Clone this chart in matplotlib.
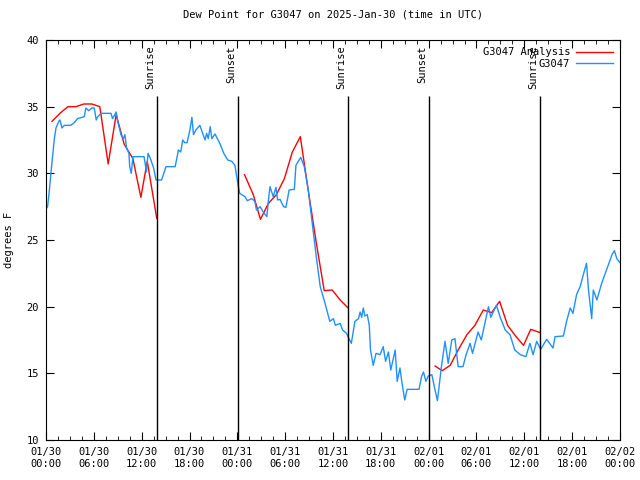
import matplotlib
matplotlib.use("Agg")
import matplotlib.pyplot as plt
import numpy as np

# hours since 2025-01-30 00:00 UTC
analysis_hours = [0.75, 1.75, 2.75, 3.75, 4.75, 5.75, 6.75, 7.8, 8.8, 9.8, 10.9, 11.9, 12.7, 13.9,
                  None,
                  24.9, 26.0, 26.9, 27.9, 28.9, 29.9, 30.9, 31.9, 32.9, 33.9, 34.9, 35.9, 36.9, 37.9,
                  None,
                  48.8, 49.7, 50.7, 51.7, 52.8, 53.8, 54.85, 55.9, 56.9, 57.9, 58.9, 59.9, 60.8, 62.0]
analysis_vals = [33.9, 34.5, 35.0, 35.0, 35.2, 35.2, 35.0, 30.7, 34.4, 32.2, 31.1, 28.2, 30.9, 26.6,
                 None,
                 29.9, 28.4, 26.55, 27.75, 28.4, 29.6, 31.6, 32.75, 28.7, 24.8, 21.2, 21.25, 20.5, 19.9,
                 None,
                 15.55, 15.2, 15.6, 16.75, 17.9, 18.6, 19.75, 19.55, 20.4, 18.6, 17.8, 17.1, 18.3, 18.05]

obs_hours = [0.0, 0.2, 0.4, 0.6, 0.85, 1.05, 1.25, 1.6, 1.75, 2.0, 2.3, 3.1, 3.55, 3.95, 4.8, 5.0,
             5.35, 5.75, 6.05, 6.3, 6.5, 6.9, 8.15, 8.35, 8.8, 9.0, 9.4, 9.7, 9.9, 10.1, 10.4, 10.5,
             10.7, 10.9, 12.3, 12.6, 12.8, 13.1, 13.5, 13.8, 14.5, 15.05, 16.2, 16.5, 16.6, 16.9,
             17.15, 17.4, 17.7, 18.05, 18.3, 18.5, 18.8, 19.3, 19.65, 19.95, 20.15, 20.35, 20.6,
             20.8, 21.2, 21.5, 21.8, 22.3, 22.8, 23.3, 23.7, 24.1, 24.3, 24.95, 25.25, 25.8, 26.2,
             26.4, 26.85, 27.25, 27.7, 27.9, 28.1, 28.5, 28.85, 29.05, 29.35, 29.8, 30.1, 30.5,
             31.15, 31.35, 31.95, 32.4, 32.9, 33.5, 33.9, 34.4, 35.0, 35.6, 36.05, 36.3, 36.9,
             37.2, 37.7, 38.0, 38.3, 38.75, 39.2, 39.4, 39.6, 39.8, 40.0, 40.3, 40.55, 40.7, 41.05,
             41.4, 41.9, 42.3, 42.6, 42.95, 43.25, 43.8, 44.05, 44.4, 44.6, 45.0, 45.3, 46.8, 47.1,
             47.35, 47.65, 47.95, 48.4, 48.8, 49.1, 49.35, 49.6, 50.05, 50.45, 50.9, 51.3, 51.7,
             52.3, 52.7, 53.2, 53.5, 54.2, 54.6, 55.05, 55.5, 55.8, 56.1, 56.5, 56.95, 57.6, 58.2,
             58.8, 59.5, 60.2, 60.7, 61.1, 61.55, 62.05, 62.8, 63.6, 63.85, 64.9, 65.3, 65.75,
             66.1, 66.55, 67.0, 67.4, 67.8, 68.05, 68.45, 68.65, 69.1, 69.7, 70.3, 70.75, 71.0,
             71.3, 71.6, 72.0]
obs_vals = [27.3, 27.5, 28.6, 29.9, 31.4, 32.6, 33.4, 33.9, 34.0, 33.4, 33.6, 33.6, 33.8, 34.1,
            34.25, 34.9, 34.7, 34.9, 34.9, 34.0, 34.25, 34.5, 34.5, 34.1, 34.6, 33.9, 32.9, 32.6,
            32.9, 31.9, 31.5, 30.5, 30.0, 31.25, 31.25, 30.1, 31.5, 31.1, 30.4, 29.5, 29.5, 30.5,
            30.5, 31.4, 31.75, 31.6, 32.5, 32.3, 32.3, 33.25, 34.2, 32.9, 33.25, 33.6, 33.0, 32.5,
            33.0, 32.6, 33.5, 32.6, 32.95, 32.6, 32.25, 31.5, 31.0, 30.9, 30.6, 29.1, 28.5, 28.25,
            27.95, 28.1, 27.9, 27.25, 27.5, 27.1, 26.75, 28.0, 29.0, 28.25, 28.95, 28.0, 28.05,
            27.5, 27.45, 28.75, 28.8, 30.6, 31.2, 30.5, 28.75, 25.75, 23.75, 21.5, 20.25, 18.9,
            19.1, 18.6, 18.75, 18.25, 18.0, 17.6, 17.25, 18.9, 19.1, 19.6, 19.2, 19.9, 19.3, 19.4,
            18.6, 16.75, 15.6, 16.5, 16.4, 17.0, 15.9, 16.6, 15.25, 16.75, 14.4, 15.4, 14.5, 13.0,
            13.8, 13.8, 14.75, 15.1, 14.4, 14.8, 14.9, 13.75, 12.95, 14.25, 15.5, 17.4, 15.75,
            17.5, 17.6, 15.5, 15.5, 16.4, 17.25, 16.5, 18.1, 17.5, 18.75, 20.0, 19.2, 19.6, 20.1,
            19.25, 18.25, 17.9, 16.75, 16.4, 16.25, 17.25, 16.4, 17.4, 16.8, 17.55, 16.9, 17.75,
            17.8, 18.9, 19.9, 19.5, 20.9, 21.5, 22.4, 23.25, 21.25, 19.1, 21.25, 20.5, 21.75,
            22.75, 23.5, 23.9, 24.2, 23.6, 23.3]

event_hours = [13.9, 24.1, 37.9, 48.05, 62.0]
event_names = ["Sunrise", "Sunset", "Sunrise", "Sunset", "Sunrise"]

tick_hours = [0, 6, 12, 18, 24, 30, 36, 42, 48, 54, 60, 66, 72]
tick_labels = ["01/30\n00:00", "01/30\n06:00", "01/30\n12:00", "01/30\n18:00",
               "01/31\n00:00", "01/31\n06:00", "01/31\n12:00", "01/31\n18:00",
               "02/01\n00:00", "02/01\n06:00", "02/01\n12:00", "02/01\n18:00",
               "02/02\n00:00"]

plt.rcParams['font.family'] = 'DejaVu Sans Mono'
plt.rcParams['font.size'] = 7.5

fig = plt.figure(figsize=(6.4, 4.8), dpi=100)
ax = fig.add_axes([46 / 640, 40 / 480, 574 / 640, 400 / 480])

ah = np.array([np.nan if h is None else h for h in analysis_hours], dtype=float)
av = np.array([np.nan if v is None else v for v in analysis_vals], dtype=float)
ax.plot(ah, av, color='#ff0000', lw=1, label='G3047 Analysis')
ax.plot(obs_hours, obs_vals, color='#1e90ff', lw=1, label='G3047')

for h, name in zip(event_hours, event_names):
    ax.vlines(h, 10, 35.8, color='black', lw=1)
    ax.text(h - 0.25, 39.6, name, rotation=90, ha='right', va='top')

ax.set_xlim(0, 72)
ax.set_ylim(10, 40)
ax.set_xticks(tick_hours)
ax.set_xticklabels(tick_labels)
ax.set_xticks(np.arange(0, 72.1, 1.5), minor=True)
ax.set_yticks(range(10, 41, 5))
ax.tick_params(which='both', direction='in', top=True, right=True, pad=5)
ax.tick_params(which='major', length=6)
ax.tick_params(which='minor', length=3)
ax.set_ylabel('degrees F', labelpad=9)
ax.set_title('Dew Point for G3047 on 2025-Jan-30 (time in UTC)', fontsize=7.5, pad=16)

ax.legend(loc='upper right', frameon=False, markerfirst=False, handlelength=3.5,
          borderaxespad=0.3, labelspacing=0.15, handletextpad=0.6)

fig.savefig('out.png', dpi=100)
